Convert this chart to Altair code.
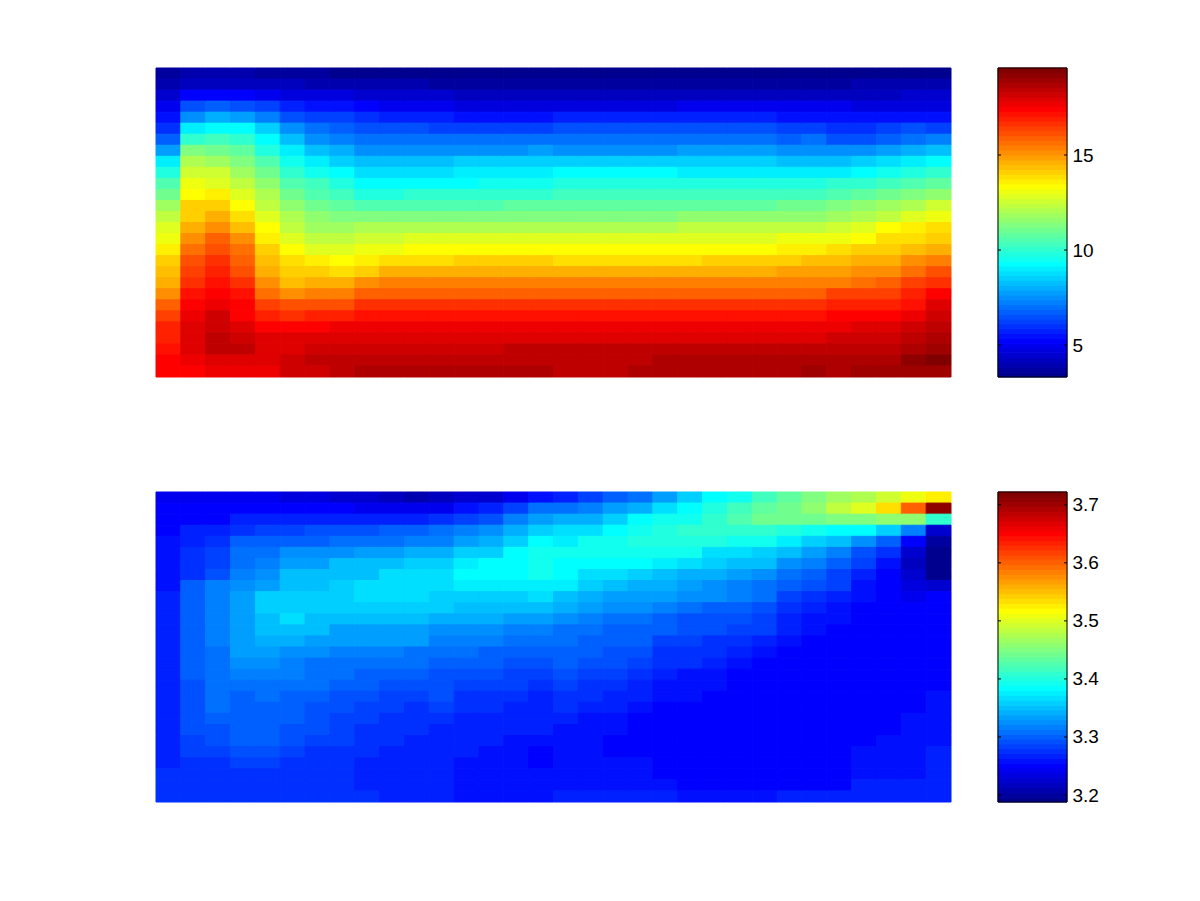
import altair as alt
import pandas as pd

# Colour-map level (1-64, MATLAB jet) of every cell, one list per column, top row first.
TOP = [
[2,3,5,7,9,11,14,18,23,26,29,31,34,36,38,39,41,43,44,45,47,50,52,54,54,55,56,56],
[3,4,8,13,17,23,27,32,35,37,39,40,43,43,45,47,49,51,52,53,55,56,57,58,58,58,57,56],
[3,4,8,14,19,24,28,31,34,37,38,41,43,45,47,50,51,53,54,55,56,57,59,59,60,60,58,57],
[3,4,8,13,18,24,27,30,32,34,36,38,40,42,44,47,49,50,51,53,55,56,56,58,59,60,58,57],
[2,4,7,12,16,21,24,26,29,31,33,35,36,38,40,41,43,44,45,47,49,52,54,56,58,58,58,57],
[2,4,6,10,13,17,20,23,25,27,29,31,33,35,36,38,40,42,43,44,47,51,53,56,58,58,59,59],
[2,3,6,9,12,15,17,20,23,25,28,29,31,33,34,36,38,41,43,45,48,51,54,56,58,59,60,59],
[1,3,6,9,12,14,16,19,21,24,26,28,30,32,34,36,38,40,42,45,48,51,54,57,58,59,60,60],
[1,3,5,8,11,13,15,17,20,22,24,26,29,32,35,37,39,41,43,47,50,53,55,57,58,59,60,61],
[1,3,5,7,10,13,15,17,20,22,24,26,29,32,35,37,39,42,45,48,50,53,55,57,58,59,60,61],
[1,3,5,7,10,13,15,17,20,22,24,27,29,32,35,38,40,42,45,48,50,53,55,57,58,59,60,61],
[1,2,5,7,10,12,15,17,20,22,24,27,29,32,35,38,40,42,45,48,50,53,55,57,58,59,60,61],
[1,2,4,6,9,12,15,17,21,23,24,27,29,32,35,38,40,43,45,48,50,53,55,57,58,59,60,61],
[1,2,4,6,9,12,15,17,21,23,25,27,29,32,35,38,40,43,45,48,50,53,55,57,58,59,60,61],
[1,2,4,6,9,12,15,17,21,23,25,27,30,32,35,38,40,43,45,48,50,53,55,57,58,60,60,61],
[1,2,4,6,9,12,15,18,21,23,25,27,30,32,35,38,40,43,45,48,50,53,55,57,58,60,60,61],
[1,2,4,6,10,13,15,17,21,24,26,28,30,32,35,38,40,42,45,48,50,53,55,57,58,60,60,60],
[1,2,4,6,10,13,15,17,21,24,26,28,30,32,35,38,40,42,45,48,50,53,55,57,58,60,60,60],
[1,2,4,6,10,13,15,17,21,24,26,28,30,32,35,38,40,42,45,48,50,53,55,57,58,60,60,60],
[1,2,4,6,10,13,15,17,21,24,26,28,30,32,35,38,40,42,45,48,50,53,55,57,58,60,60,61],
[1,2,4,6,10,13,15,17,21,24,26,28,30,32,35,38,40,42,45,48,50,53,55,57,58,60,61,61],
[1,2,4,7,10,13,15,18,21,23,26,28,30,33,36,38,40,42,45,48,50,53,55,57,58,60,61,61],
[1,2,4,7,10,13,15,18,21,23,26,28,30,33,36,38,40,43,45,48,50,53,55,57,58,60,61,61],
[1,2,4,7,10,13,15,18,21,23,26,28,30,33,36,38,40,43,45,48,50,53,55,57,58,60,61,61],
[1,2,4,7,10,13,15,18,21,23,26,28,30,33,36,38,40,43,45,48,50,53,55,57,58,60,61,61],
[1,2,4,7,9,12,14,17,20,23,26,28,31,33,36,39,41,43,46,48,50,53,55,57,58,60,61,61],
[1,2,4,7,9,12,15,17,20,23,26,28,31,33,36,39,41,44,46,48,50,53,55,57,58,60,61,62],
[1,2,4,7,9,11,13,17,20,23,27,29,32,34,37,39,42,44,46,48,52,54,56,57,59,60,61,61],
[1,3,4,6,9,11,13,17,21,24,27,30,33,35,38,40,43,45,47,49,52,54,56,58,59,60,61,62],
[1,3,4,6,9,12,14,18,22,25,28,31,34,36,40,42,43,45,47,50,52,54,56,58,59,60,61,62],
[1,3,5,6,9,13,15,19,23,26,29,32,35,38,41,42,44,47,49,52,54,55,57,59,60,61,63,62],
[1,3,5,6,9,12,16,20,24,27,30,33,37,39,42,43,45,48,51,53,56,58,59,60,61,62,64,62],
]

BOTTOM = [
[7,8,8,8,9,9,9,9,9,10,10,10,10,10,10,10,10,10,10,10,10,10,10,10,10,11,11,11],
[7,8,8,10,10,11,11,11,14,14,14,14,14,14,14,14,14,13,13,13,13,13,12,12,11,11,11,11],
[7,8,8,10,11,12,12,13,16,16,16,16,16,16,15,15,15,15,15,15,14,13,13,12,11,11,11,11],
[7,8,10,11,14,15,15,16,17,18,18,18,18,18,18,17,16,15,14,14,14,14,14,13,12,11,11,11],
[7,8,10,12,14,15,16,17,18,21,21,20,20,19,18,17,16,15,15,14,14,14,14,13,12,11,11,11],
[6,8,10,12,14,17,18,20,20,21,21,22,20,19,17,16,16,15,14,14,14,13,13,12,11,11,11,11],
[6,8,10,13,14,17,18,20,20,21,21,20,20,18,17,15,15,15,14,13,13,13,12,11,11,11,11,11],
[5,8,10,13,15,17,20,20,21,21,21,20,18,18,16,15,15,14,13,13,12,12,12,11,11,11,11,11],
[5,7,10,13,15,18,20,20,22,22,21,20,18,18,16,15,14,14,13,12,12,11,11,11,10,10,10,11],
[4,7,10,14,15,18,20,22,22,22,21,20,18,18,16,15,14,13,12,12,11,11,11,10,10,10,10,10],
[3,7,10,14,16,19,21,22,22,22,21,20,18,18,15,15,14,13,12,11,11,11,10,10,10,10,10,10],
[4,7,11,15,16,19,21,22,22,21,21,19,17,16,15,14,13,13,13,12,11,10,10,10,10,10,10,10],
[5,9,12,16,18,21,23,24,23,21,20,19,17,16,15,14,13,12,11,11,10,10,10,10,9,9,9,9],
[5,10,13,17,19,21,24,24,23,21,20,19,17,16,14,14,13,12,11,11,10,10,10,9,9,9,9,9],
[7,12,16,19,21,24,24,24,23,21,20,18,16,15,14,13,12,12,11,10,10,10,9,9,9,9,9,9],
[9,15,18,21,24,25,25,25,23,22,20,18,16,15,14,13,12,11,10,10,10,10,9,8,8,9,9,9],
[10,15,19,22,23,25,24,24,23,20,19,17,15,15,14,14,13,12,11,11,10,9,9,9,9,9,9,10],
[12,16,19,22,25,25,24,22,21,19,18,16,15,14,14,13,12,11,11,10,9,9,9,9,9,9,9,10],
[14,18,21,24,25,25,24,22,20,18,17,15,14,14,13,13,12,11,10,10,9,9,8,8,9,9,9,10],
[15,19,24,25,26,25,24,21,19,18,17,15,14,14,13,12,11,10,10,9,8,8,8,8,9,9,9,10],
[18,22,25,26,26,25,23,20,19,18,16,14,14,12,11,11,10,9,9,8,8,8,8,8,8,8,9,10],
[21,24,25,27,26,25,22,19,18,17,15,13,13,12,11,11,9,9,9,8,8,8,8,8,8,8,8,9],
[24,26,27,27,26,22,21,19,17,17,14,13,13,11,11,10,9,9,8,8,8,8,8,8,8,8,8,9],
[25,28,29,27,25,22,20,18,16,16,14,13,12,11,10,9,8,8,8,8,8,8,8,8,8,8,8,9],
[28,30,31,27,25,21,20,17,15,15,13,12,12,10,9,8,8,8,8,8,8,8,8,8,8,8,8,9],
[30,31,31,26,23,20,17,15,14,12,11,10,10,9,8,8,8,8,8,8,8,8,8,8,8,8,8,10],
[32,33,31,25,21,18,16,14,13,11,10,9,9,8,8,8,8,8,8,8,8,8,8,8,8,8,8,10],
[34,36,32,24,20,16,14,12,12,10,9,9,8,8,8,8,8,8,8,8,8,8,8,8,8,8,8,10],
[35,38,32,24,17,13,12,10,9,9,8,8,8,8,8,8,8,8,8,8,8,8,8,9,9,9,10,10],
[37,42,33,21,14,11,9,8,8,8,8,8,8,8,8,8,8,8,8,8,8,8,9,9,9,9,10,10],
[39,50,33,16,8,5,4,5,6,7,8,8,8,8,8,8,8,8,8,8,9,9,9,9,9,9,10,10],
[41,63,27,5,2,1,1,1,5,8,8,8,8,8,8,8,8,8,9,9,9,9,9,10,10,10,10,10],
]

TOP_RANGE = [3.32, 19.58]
BOTTOM_RANGE = [3.188, 3.722]
TOP_TICKS = [5, 10, 15]
BOTTOM_TICKS = [3.2, 3.3, 3.4, 3.5, 3.6, 3.7]
LEVELS = list(range(1, 65))


def jet_colour(level):
    def ramp(x):
        return max(0.0, min(1.0, x))
    i = level - 1
    n = 16.0
    r = ramp(min((i - 23) / n, (71 - i) / n))
    g = ramp(min((i - 7) / n, (55 - i) / n))
    b = ramp(min((i + 9) / n, (39 - i) / n))
    return "#%02x%02x%02x" % (round(r * 255), round(g * 255), round(b * 255))


JET = [jet_colour(k) for k in LEVELS]
COLOUR = alt.Scale(type="quantize", domain=[0.5, 64.5], range=JET)


def heatmap(columns, height):
    assert len(columns) == 32 and all(len(c) == 28 for c in columns)
    df = pd.DataFrame(
        [{"col": c, "row": r, "level": v}
         for c, column in enumerate(columns) for r, v in enumerate(column)]
    )
    band = alt.Scale(paddingInner=0, paddingOuter=0)
    return (
        alt.Chart(df)
        .mark_rect(strokeWidth=1)
        .encode(
            x=alt.X("col:O", axis=None, scale=band),
            y=alt.Y("row:O", axis=None, scale=band),
            color=alt.Color("level:Q", scale=COLOUR, legend=None),
            stroke=alt.Color("level:Q", scale=COLOUR, legend=None),
        )
        .properties(width=795, height=height)
    )


def colourbar(value_range, ticks, height, fmt):
    lo, hi = value_range
    step = (hi - lo) / 64
    bands = pd.DataFrame(
        [{"level": k, "y0": lo + (k - 1) * step, "y1": lo + k * step} for k in LEVELS]
    )
    scale = alt.Scale(domain=[lo, hi], nice=False, zero=False)
    y_axis = alt.Axis(
        orient="right", values=ticks, format=fmt, title=None, grid=False, domain=False,
        ticks=False, labelPadding=5, labelFontSize=19, labelColor="black",
        labelFont="Liberation Sans",
    )
    fill = (
        alt.Chart(bands)
        .mark_rect(strokeWidth=1)
        .encode(
            x=alt.value(0), x2=alt.value(69),
            y=alt.Y("y0:Q", scale=scale, axis=y_axis), y2="y1:Q",
            color=alt.Color("level:Q", scale=COLOUR, legend=None),
            stroke=alt.Color("level:Q", scale=COLOUR, legend=None),
        )
    )
    tick_df = pd.DataFrame({"tick": ticks})
    left = alt.Chart(tick_df).mark_rule(color="black", strokeWidth=1).encode(
        x=alt.value(0), x2=alt.value(3), y=alt.Y("tick:Q", scale=scale))
    right = alt.Chart(tick_df).mark_rule(color="black", strokeWidth=1).encode(
        x=alt.value(66), x2=alt.value(69), y=alt.Y("tick:Q", scale=scale))
    frame = alt.Chart(pd.DataFrame({"a": [lo], "b": [hi]})).mark_rect(
        fillOpacity=0, stroke="black", strokeWidth=1
    ).encode(
        x=alt.value(0), x2=alt.value(69),
        y=alt.Y("a:Q", scale=scale), y2="b:Q",
    )
    return alt.layer(fill, left, right, frame).properties(width=69, height=height)


upper = alt.hconcat(
    heatmap(TOP, 309), colourbar(TOP_RANGE, TOP_TICKS, 309, "d"), spacing=45
).resolve_scale(color="independent", stroke="independent")
lower = alt.hconcat(
    heatmap(BOTTOM, 310), colourbar(BOTTOM_RANGE, BOTTOM_TICKS, 310, ".1f"), spacing=45
).resolve_scale(color="independent", stroke="independent")

chart = (
    alt.vconcat(upper, lower, spacing=113)
    .properties(padding={"left": 147, "top": 59, "right": 0, "bottom": 0})
    .configure_view(stroke=None)
)
chart.save("out.html", embed_options={"renderer": "svg", "actions": False})
